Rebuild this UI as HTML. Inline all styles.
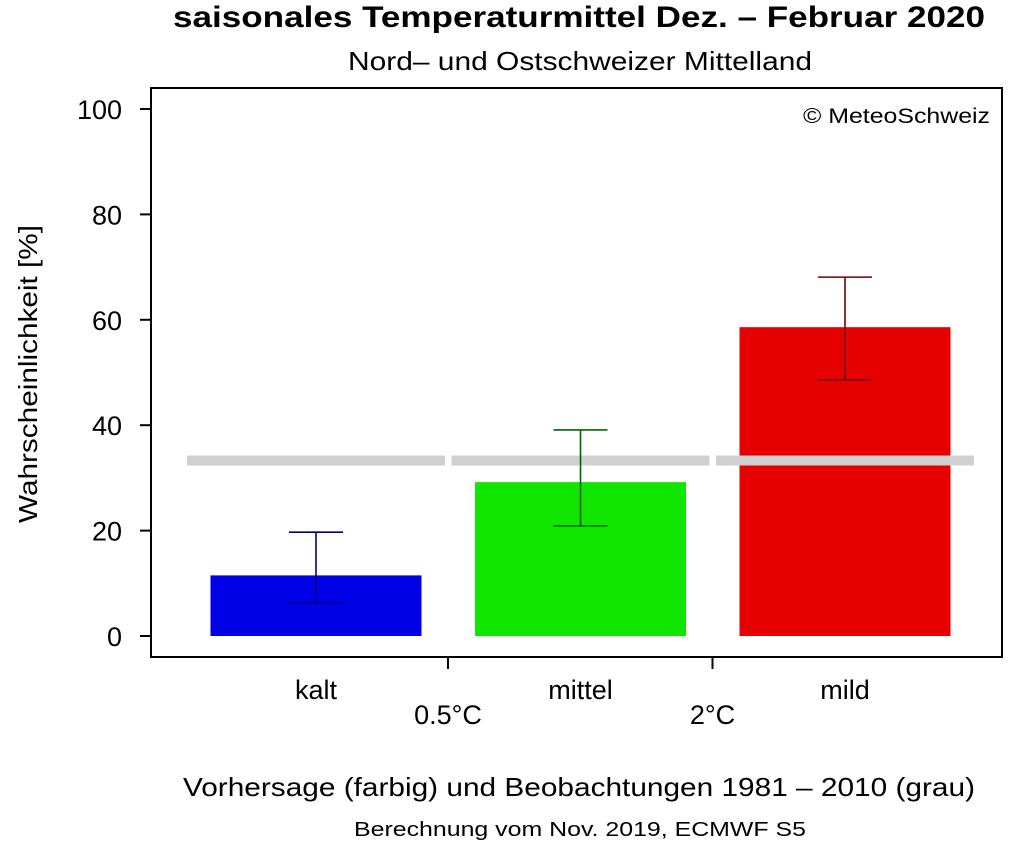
<!DOCTYPE html>
<html><head><meta charset="utf-8"><style>
body{margin:0;background:#fff}
svg text{font-family:"Liberation Sans",Arial,sans-serif;fill:#000}
</style></head><body>
<svg id="c" width="1012" height="844">
<text x="579" y="27" font-size="30" font-weight="bold" text-anchor="middle" textLength="812" lengthAdjust="spacingAndGlyphs">saisonales Temperaturmittel Dez. – Februar 2020</text>
<text x="580" y="70" font-size="26" text-anchor="middle" textLength="464" lengthAdjust="spacingAndGlyphs">Nord– und Ostschweizer Mittelland</text>
<rect x="151" y="88" width="851" height="569" fill="none" stroke="#000" stroke-width="2"/>
<text x="990" y="123" font-size="21" text-anchor="end" textLength="187" lengthAdjust="spacingAndGlyphs">© MeteoSchweiz</text>
<text transform="translate(37,374) rotate(-90)" font-size="26" text-anchor="middle" textLength="298" lengthAdjust="spacingAndGlyphs">Wahrscheinlichkeit [%]</text>
<text x="579" y="796" font-size="26" text-anchor="middle" textLength="792" lengthAdjust="spacingAndGlyphs">Vorhersage (farbig) und Beobachtungen 1981 – 2010 (grau)</text>
<text x="580" y="836" font-size="20" text-anchor="middle" textLength="452" lengthAdjust="spacingAndGlyphs">Berechnung vom Nov. 2019, ECMWF S5</text>
<g id="g"></g>
</svg>
<script>
const categories=["kalt","mittel","mild"];
const values=[11.5,29.2,58.6];
const lower=[6.3,20.9,48.6];
const upper=[19.7,39.1,68.1];
const climatology=[33.3,33.3,33.3];
const yTicks=[0,20,40,60,80,100];
const thresholds=["0.5°C","2°C"];
const colors=["#0000e6","#11e600","#e60000"];
const errColors=["#000080","#006400","#700000"];
const NS="http://www.w3.org/2000/svg";
const g=document.getElementById('g');
function y(v){return 636-v*5.27;}
function xc(i){return 316+i*264.5;}
function mk(t,a){const e=document.createElementNS(NS,t);for(const k in a)e.setAttribute(k,a[k]);g.appendChild(e);return e;}
yTicks.forEach(t=>{
 const l=mk('line',{x1:140,x2:151,y1:y(t),y2:y(t),stroke:'#000','stroke-width':2});
 
 
 const tx=mk('text',{x:122,y:y(t)+10,'font-size':27,'text-anchor':'end'});tx.textContent=t;
 
 
});
const yl=mk('line',{x1:151,x2:151,y1:y(0),y2:y(100),stroke:'#000','stroke-width':2});
categories.forEach((c,i)=>{
 const b=mk('rect',{x:xc(i)-105.5,y:y(values[i]),width:211,height:y(0)-y(values[i]),fill:colors[i]});
 
 
 const gl=mk('rect',{x:xc(i)-129,y:y(climatology[i])-5,width:258,height:10,fill:'#d0d0d0'});
 
 
 const ec=errColors[i];
 [[xc(i),xc(i),y(lower[i]),y(upper[i])],[xc(i)-27,xc(i)+27,y(lower[i]),y(lower[i])],[xc(i)-27,xc(i)+27,y(upper[i]),y(upper[i])]].forEach(p=>{
  const l=mk('line',{x1:p[0],x2:p[1],y1:p[2],y2:p[3],stroke:ec,'stroke-width':1.6});
  
  
 });
 const t=mk('text',{x:xc(i),y:699,'font-size':27,'text-anchor':'middle'});t.textContent=c;
 
 
});
thresholds.forEach((th,i)=>{
 const x=xc(i)+132;
 const l=mk('line',{x1:x,x2:x,y1:657,y2:669,stroke:'#000','stroke-width':2});
 
 
 const t=mk('text',{x:x,y:724,'font-size':27,'text-anchor':'middle'});t.textContent=th;
 
 
});
</script>
</body></html>
